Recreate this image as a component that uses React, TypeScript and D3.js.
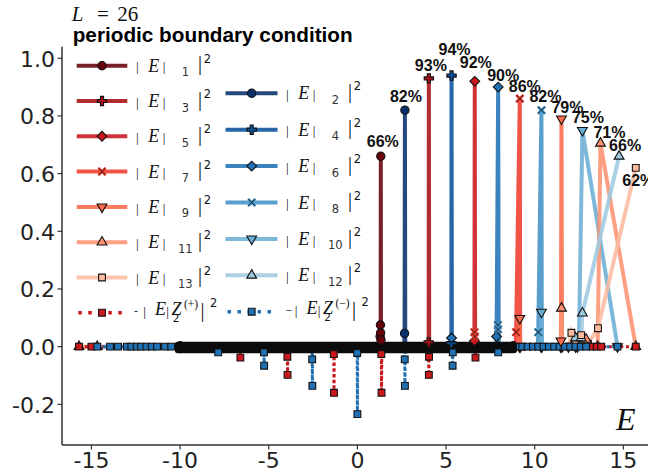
import React from 'react';
import * as d3 from 'd3';

// (E, weight) points of each |E|_n series
const state1 = [[-10.0, 0], [1.26, 0], [1.28, 0.035], [1.30, 0.075], [1.31, 0.048], [1.32, 0.66], [1.33, 0.023], [1.35, 0], [8.8, 0]];
const state2 = [[-10.0, 0], [2.64, 0], [2.66, 0.046], [2.68, 0.82], [2.70, 0], [8.8, 0]];
const state3 = [[-10.0, 0], [4.00, 0], [4.02, 0.015], [4.03, 0.93], [4.05, 0], [8.8, 0]];
const state4 = [[-10.0, 0], [5.28, 0], [5.30, 0.012], [5.31, 0.94], [5.33, 0], [8.8, 0]];
const state5 = [[-10.0, 0], [6.58, 0], [6.60, 0.02], [6.62, 0.92], [6.64, 0], [8.8, 0]];
const state6 = [[-10.0, 0], [5.29, 0], [5.31, 0.03], [5.33, 0], [7.83, 0], [7.85, 0.035], [7.94, 0.90], [7.97, 0], [8.8, 0]];
const state7 = [[-10.0, 0], [6.58, 0], [6.60, 0.05], [6.63, 0.035], [6.65, 0], [8.93, 0], [8.95, 0.05], [9.16, 0.86], [9.18, 0], [9.6, 0]];
const state8 = [[-10.0, 0], [7.90, 0], [7.92, 0.075], [7.93, 0.06], [7.95, 0], [10.18, 0], [10.20, 0.05], [10.38, 0.82], [10.40, 0], [10.9, 0]];
const state9 = [[-10.0, 0], [9.14, 0], [9.16, 0.098], [9.18, 0], [11.46, 0], [11.48, 0.02], [11.51, 0.79], [11.54, 0], [12.3, 0]];
const state10 = [[-10.0, 0], [10.36, 0], [10.38, 0.12], [10.40, 0], [11.9, 0], [12.40, 0], [12.50, 0.035], [12.69, 0.75], [14.67, 0]];
const state11 = [[-15.70, 0], [11.49, 0], [11.51, 0.133], [11.53, 0], [12.2, 0], [12.9, 0.025], [13.1, 0], [13.55, 0], [13.71, 0.705], [15.70, 0]];
const state12 = [[-14.67, 0], [12.1, 0], [12.3, 0.03], [12.5, 0], [12.62, 0.03], [12.69, 0.116], [14.76, 0.66]];
const state13 = [[-10.0, 0], [11.95, 0], [12.07, 0.048], [12.30, 0.01], [12.62, 0.04], [13.0, 0.01], [13.57, 0.064], [15.70, 0.62]];

// -|E Z2(+)|^2 and -|E Z2(-)|^2
const zPlus = [[-15.70, 0], [-15.0, 0], [-6.62, 0], [-6.60, -0.038], [-6.58, 0], [-3.97, 0], [-3.95, -0.035], [-3.94, -0.098], [-3.92, 0],
  [-1.35, 0], [-1.33, -0.026], [-1.32, -0.16], [-1.30, 0], [1.33, 0], [1.35, -0.026], [1.36, -0.16], [1.38, 0], [4.01, 0], [4.03, -0.098],
  [4.04, -0.035], [4.06, 0], [6.64, 0], [6.66, -0.038], [6.68, 0], [13.2, 0], [13.5, 0], [13.75, 0], [15.70, 0]];
const zMinus = [[-14.67, 0], [-13.95, 0], [-13.5, 0], [-13.0, 0], [-12.75, 0], [-12.45, 0], [-12.2, 0], [-11.9, 0], [-11.6, 0], [-11.3, 0],
  [-10.85, 0], [-10.5, 0], [-7.87, 0], [-7.85, -0.02], [-7.83, 0], [-5.29, 0], [-5.27, -0.02], [-5.26, -0.066], [-5.24, 0],
  [-2.57, 0], [-2.55, -0.044], [-2.54, -0.136], [-2.52, 0], [-0.02, 0], [-0.01, -0.022], [0.0, -0.234], [0.02, 0],
  [2.66, 0], [2.67, -0.044], [2.68, -0.136], [2.70, 0], [5.35, 0], [5.37, -0.066], [5.38, -0.02], [5.40, 0], [7.92, 0], [7.94, -0.02], [7.96, 0],
  [9.0, 0], [9.3, 0], [9.6, 0], [9.9, 0], [10.2, 0], [10.5, 0], [10.8, 0], [11.1, 0], [11.4, 0], [11.7, 0], [12.0, 0], [12.3, 0], [12.6, 0], [12.9, 0], [14.67, 0]];

const states = [state1, state2, state3, state4, state5, state6, state7, state8, state9, state10, state11, state12, state13];
const peakPercent = [66, 82, 93, 94, 92, 90, 86, 82, 79, 75, 71, 66, 62];

// region where the markers of all eigenstates pile up into a black band
const denseBandE = [-10.3, 9.0];
const denseBandV = [-0.023, 0.017];

const xTicks = [-15, -10, -5, 0, 5, 10, 15];
const yTicks = [-0.2, 0.0, 0.2, 0.4, 0.6, 0.8, 1.0];

const stateColors = ['#67000d', '#08306b', '#a50f15', '#08519c', '#cb181d', '#2171b5', '#ef3b2c', '#4292c6', '#fb6a4a', '#6baed6', '#fc9272', '#9ecae1', '#fcbba1'];
const stateMarkers = ['o', 'o', 'P', 'P', 'D', 'D', 'x', 'x', 'v', 'v', '^', '^', 's'];
const zPlusColor = '#cb181d';
const zMinusColor = '#2171b5';

// label nudges (px) for the percentage annotations
const labelNudge = [[2, -9.7], [1, -7.9], [2, -7.8], [3, -20.6], [1, -13], [5, -6.4], [5, -6.4], [4, -7.9], [6, -5.6], [5.5, -7.1], [9, -5], [6, -5.7], [2.5, 18.4]];

const serif = 'Liberation Serif, Times New Roman, serif';
const sans = 'DejaVu Sans, sans-serif';

function Marker({ kind, cx, cy, color }: { kind: string; cx: number; cy: number; color: string }) {
  if (kind === 'x') {
    const d = 'M-3.6,-3.6L3.6,3.6M-3.6,3.6L3.6,-3.6';
    return (
      <g transform={`translate(${cx},${cy})`}>
        <path d={d} stroke={color} strokeWidth={2.6} fill="none" />
        <path d={d} stroke="#111" strokeWidth={0.8} fill="none" />
      </g>
    );
  }
  let p = '';
  let rot = 0;
  if (kind === 'o') p = d3.symbol(d3.symbolCircle, 54)() as string;
  if (kind === 'P') p = d3.symbol(d3.symbolCross, 48)() as string;
  if (kind === 'D') { p = d3.symbol(d3.symbolSquare, 48)() as string; rot = 45; }
  if (kind === 'v') { p = d3.symbol(d3.symbolTriangle, 42)() as string; rot = 180; }
  if (kind === '^') p = d3.symbol(d3.symbolTriangle, 42)() as string;
  if (kind === 's') p = d3.symbol(d3.symbolSquare, 46)() as string;
  return <path d={p} transform={`translate(${cx},${cy}) rotate(${rot})`} fill={color} stroke="#111" strokeWidth={1.1} />;
}

function StateLabel({ x0, ry, sub }: { x0: number; ry: number; sub: string }) {
  return (
    <g fill="#111">
      <text x={x0} y={ry + 5.6} fontFamily={serif} fontSize={13.5} textAnchor="middle">|</text>
      <text x={x0 + 11} y={ry + 6} fontFamily={serif} fontSize={18} fontStyle="italic">E</text>
      <text x={x0 + 26.7} y={ry + 5.6} fontFamily={serif} fontSize={13.5} textAnchor="middle">|</text>
      <text x={x0 + 48} y={ry + 10.5} fontFamily={sans} fontSize={11.5} textAnchor="middle" fill="#333">{sub}</text>
      <text x={x0 + 62.7} y={ry + 4.7} fontFamily={serif} fontSize={20} textAnchor="middle">|</text>
      <text x={x0 + 66.5} y={ry - 3} fontFamily={sans} fontSize={11.5}>2</text>
    </g>
  );
}

function ZLabel({ x0, ry, sign }: { x0: number; ry: number; sign: string }) {
  return (
    <g fill="#111">
      <text x={x0} y={ry + 1} fontFamily={sans} fontSize={sign === '+' ? 11 : 8}>{sign === '+' ? '-' : '−'}</text>
      <text x={x0 + 10.5} y={ry + 2.8} fontFamily={serif} fontSize={13.5} textAnchor="middle">|</text>
      <text x={x0 + 21} y={ry + 2.3} fontFamily={serif} fontSize={18} fontStyle="italic">E</text>
      <text x={x0 + 33.5} y={ry + 2.8} fontFamily={serif} fontSize={13.5} textAnchor="middle">|</text>
      <text x={x0 + 37.5} y={ry + 2.3} fontFamily={serif} fontSize={18} fontStyle="italic">Z</text>
      <text x={x0 + 42} y={ry + 9} fontFamily={sans} fontSize={10.5} textAnchor="middle">2</text>
      <text x={x0 + 50} y={ry - 4.5} fontFamily={serif} fontSize={11.5}>{sign === '+' ? '(+)' : '(−)'}</text>
      <text x={x0 + 68.5} y={ry + 4.5} fontFamily={serif} fontSize={20} textAnchor="middle">|</text>
      <text x={x0 + 76} y={ry - 5.4} fontFamily={sans} fontSize={11.5}>2</text>
    </g>
  );
}

export default function App() {
  const x = d3.scaleLinear().domain([-16.66, 16.39]).range([62, 648]);
  const y = d3.scaleLinear().domain([-0.341, 1.04]).range([445, 46.7]);
  const line = d3.line<number[]>().x(d => x(d[0])).y(d => y(d[1]));

  const all = [
    ...states.map((pts, i) => ({ pts, color: stateColors[i], marker: stateMarkers[i], dotted: false })),
    { pts: zPlus, color: zPlusColor, marker: 's', dotted: true },
    { pts: zMinus, color: zMinusColor, marker: 's', dotted: true },
  ];
  const isBase = (v: number) => Math.abs(v) < 0.012;

  const col1 = [0, 2, 4, 6, 8, 10, 12];
  const col2 = [1, 3, 5, 7, 9, 11];

  return (
    <svg width={648} height={476} style={{ position: 'absolute', left: 0, top: 0, background: '#fff' }}>
      {/* series lines */}
      {all.map((s, i) => (
        <path key={'l' + i} d={line(s.pts) as string} fill="none" stroke={s.color}
          strokeWidth={s.dotted ? 3 : 4} strokeOpacity={s.dotted ? 1 : 0.88}
          strokeDasharray={s.dotted ? '3,2.7' : undefined} />
      ))}
      {/* markers lying on the zero line */}
      {all.map((s, i) => s.pts.filter(p => isBase(p[1])).map((p, j) => (
        <Marker key={'b' + i + '-' + j} kind={s.marker} cx={x(p[0])} cy={y(p[1])} color={s.color} />
      )))}
      <rect x={x(denseBandE[0])} width={x(denseBandE[1]) - x(denseBandE[0])}
        y={y(denseBandV[1])} height={y(denseBandV[0]) - y(denseBandV[1])} fill="#0b0b0b" rx={3} />
      {/* markers off the zero line */}
      {all.map((s, i) => s.pts.filter(p => !isBase(p[1])).map((p, j) => (
        <Marker key={'m' + i + '-' + j} kind={s.marker} cx={x(p[0])} cy={y(p[1])} color={s.color} />
      )))}

      {/* percentage annotations */}
      {states.map((pts, i) => {
        const top = pts.reduce((a, b) => (b[1] > a[1] ? b : a));
        return (
          <text key={'p' + i} x={x(top[0]) + labelNudge[i][0]} y={y(top[1]) + labelNudge[i][1]}
            textAnchor="middle" fontFamily="Liberation Sans, Arial, sans-serif" fontWeight="bold" fontSize={16} fill="#111">
            {peakPercent[i]}%
          </text>
        );
      })}

      {/* axes */}
      <line x1={62} x2={62} y1={46.7} y2={445} stroke="#333" strokeWidth={1.5} />
      <line x1={62} x2={648} y1={445} y2={445} stroke="#333" strokeWidth={1.5} />
      {yTicks.map(t => (
        <g key={'y' + t}>
          <line x1={57.5} x2={62} y1={y(t)} y2={y(t)} stroke="#333" strokeWidth={1.2} />
          <text x={55} y={y(t) + 8.3} textAnchor="end" fontFamily={sans} fontSize={22} fill="#222">{t < 0 ? '-' + Math.abs(t).toFixed(1) : t.toFixed(1)}</text>
        </g>
      ))}
      {xTicks.map(t => (
        <g key={'x' + t}>
          <line x1={x(t)} x2={x(t)} y1={445} y2={449.5} stroke="#333" strokeWidth={1.2} />
          <text x={x(t)} y={468} textAnchor="middle" fontFamily={sans} fontSize={22} fill="#222">{t < 0 ? '-' + Math.abs(t) : String(t)}</text>
        </g>
      ))}
      <text x={616} y={430} fontFamily={serif} fontStyle="italic" fontSize={32} fill="#111">E</text>

      {/* titles */}
      <text x={71.7} y={20.7} fontFamily={serif} fontStyle="italic" fontSize={21} fill="#111">L</text>
      <text x={97} y={20.7} fontFamily={serif} fontSize={21} fill="#111">=</text>
      <text x={117.3} y={20.7} fontFamily={serif} fontSize={21} fill="#111">26</text>
      <text x={72.7} y={41.7} fontFamily="Liberation Sans, Arial, sans-serif" fontWeight="bold" fontSize={20.5}
        textLength={280} lengthAdjust="spacingAndGlyphs" fill="#000">periodic boundary condition</text>

      {/* legend */}
      {col1.map((si, r) => {
        const ry = 65.7 + r * 35.3;
        return (
          <g key={'c1' + r}>
            <line x1={76.7} x2={127.3} y1={ry} y2={ry} stroke={stateColors[si]} strokeWidth={4} strokeOpacity={0.88} />
            <Marker kind={stateMarkers[si]} cx={102} cy={ry} color={stateColors[si]} />
            <StateLabel x0={137.3} ry={ry} sub={String(si + 1)} />
          </g>
        );
      })}
      {col2.map((si, r) => {
        const ry = 93.3 + r * 36.4;
        return (
          <g key={'c2' + r}>
            <line x1={225.5} x2={277.5} y1={ry} y2={ry} stroke={stateColors[si]} strokeWidth={4} strokeOpacity={0.88} />
            <Marker kind={stateMarkers[si]} cx={251.7} cy={ry} color={stateColors[si]} />
            <StateLabel x0={287.3} ry={ry} sub={String(si + 1)} />
          </g>
        );
      })}
      <line x1={78.3} x2={127.3} y1={312.7} y2={312.7} stroke={zPlusColor} strokeWidth={3.5} strokeDasharray="3.5,6.5" />
      <Marker kind="s" cx={102} cy={312.7} color={zPlusColor} />
      <ZLabel x0={134} ry={312.7} sign="+" />
      <line x1={227.5} x2={277.5} y1={311.7} y2={311.7} stroke={zMinusColor} strokeWidth={3.5} strokeDasharray="3.5,6.5" />
      <Marker kind="s" cx={251.7} cy={311.7} color={zMinusColor} />
      <ZLabel x0={285.5} ry={311.7} sign="-" />
    </svg>
  );
}
